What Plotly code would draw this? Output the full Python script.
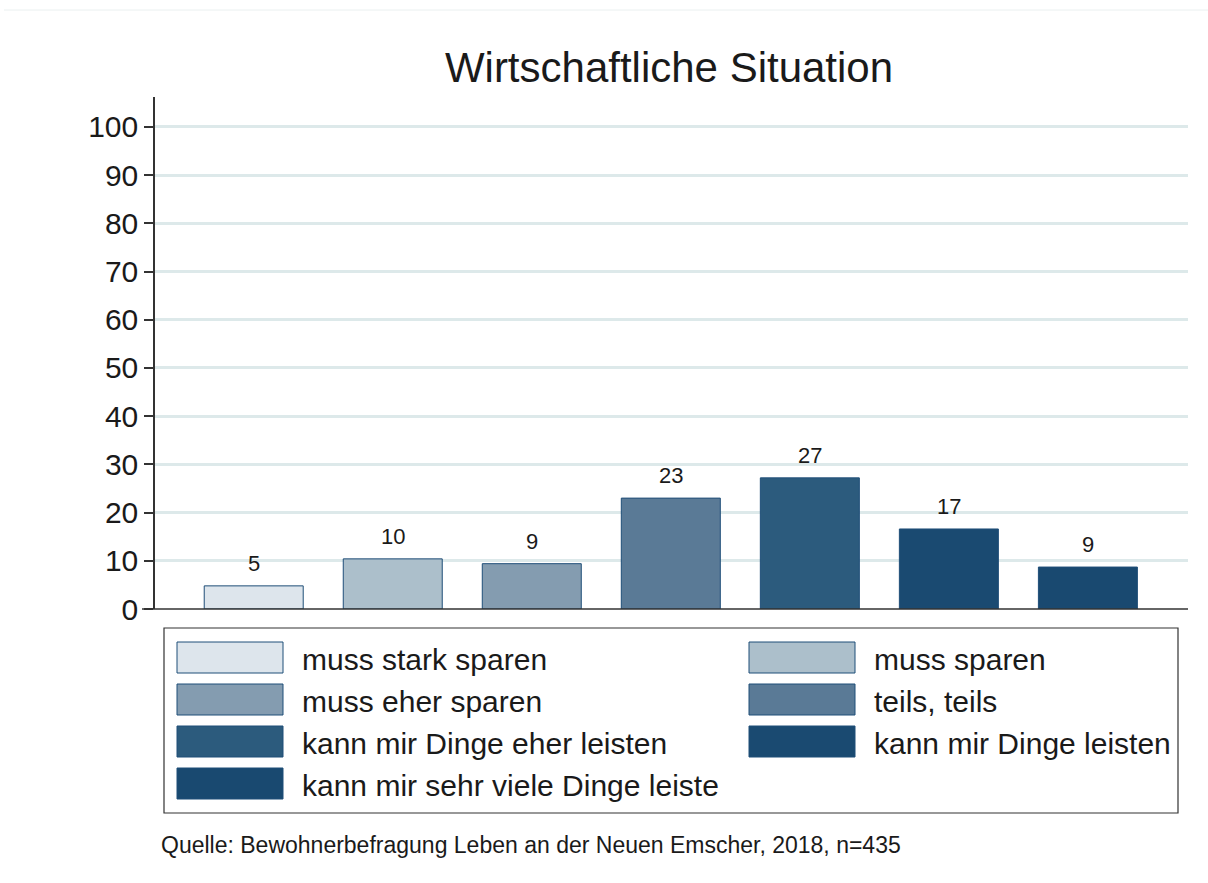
import plotly.graph_objects as go

# Survey shares (percent) per answer category
categories = [
    "muss stark sparen",
    "muss sparen",
    "muss eher sparen",
    "teils, teils",
    "kann mir Dinge eher leisten",
    "kann mir Dinge leisten",
    "kann mir sehr viele Dinge leiste",
]
shares = [4.8, 10.4, 9.4, 23.0, 27.2, 16.6, 8.7]
y_ticks = [0, 10, 20, 30, 40, 50, 60, 70, 80, 90, 100]

fill_colors = ["#dde5ec", "#acbfcb", "#849cb0", "#5a7a96", "#2c5b7d", "#1a4a71", "#194970"]
edge_color = "#1f4e78"
font_family = "Liberation Sans, Arial, sans-serif"
text_color = "#1a1a1a"

W, H = 1208, 883
L, R, T, B = 155, 20, 97, 274
plot_w = W - L - R
plot_h = H - T - B


def px_x(x):
    return (x - L) / plot_w


def px_y(y):
    return (H - B - y) / plot_h


fig = go.Figure()
for i, (cat, val) in enumerate(zip(categories, shares)):
    fig.add_trace(go.Bar(
        x=[i], y=[val], name=cat, width=0.712,
        marker=dict(color=fill_colors[i], line=dict(color=edge_color, width=1)),
        showlegend=False, hoverinfo="x+y",
    ))
    fig.add_annotation(
        x=i, y=val, text=f"{val:.0f}", showarrow=False,
        yanchor="bottom", yshift=8,
        font=dict(size=22, color=text_color, family=font_family),
    )

shapes = []
# x axis baseline, extending slightly left of the y axis
shapes.append(dict(type="line", xref="paper", yref="paper",
                   x0=px_x(142), x1=px_x(1188), y0=0, y1=0,
                   line=dict(color="#333333", width=1.5)))
# faint rule along the top of the canvas
shapes.append(dict(type="line", xref="paper", yref="paper",
                   x0=px_x(4), x1=px_x(1208), y0=px_y(10), y1=px_y(10),
                   line=dict(color="#eaf0f0", width=1)))
# legend frame
shapes.append(dict(type="rect", xref="paper", yref="paper",
                   x0=px_x(164), x1=px_x(1178), y0=px_y(628), y1=px_y(813),
                   line=dict(color="#333333", width=1.2), fillcolor="rgba(0,0,0,0)"))

annotations = []
col_x = [177, 749]
row_y = [642, 684, 726, 768]
for i, cat in enumerate(categories):
    cx = col_x[i % 2]
    ry = row_y[i // 2]
    shapes.append(dict(type="rect", xref="paper", yref="paper",
                       x0=px_x(cx), x1=px_x(cx + 106), y0=px_y(ry), y1=px_y(ry + 31),
                       line=dict(color=edge_color, width=1), fillcolor=fill_colors[i]))
    annotations.append(dict(xref="paper", yref="paper", x=px_x(cx + 123), y=px_y(ry + 17),
                            text=cat, showarrow=False, xanchor="left", yanchor="middle",
                            font=dict(size=30, color=text_color, family=font_family)))

annotations.append(dict(xref="paper", yref="paper", x=px_x(159), y=px_y(845),
                        text="Quelle: Bewohnerbefragung Leben an der Neuen Emscher, 2018, n=435",
                        showarrow=False, xanchor="left", yanchor="middle",
                        font=dict(size=23, color=text_color, family=font_family)))

for a in annotations:
    fig.add_annotation(**a)

fig.update_layout(
    width=W, height=H,
    margin=dict(l=L, r=R, t=T, b=B),
    paper_bgcolor="white", plot_bgcolor="white",
    barmode="overlay",
    title=dict(text="Wirtschaftliche Situation", xref="paper", x=px_x(669), xanchor="center",
               y=1 - 67 / H, yanchor="middle",
               font=dict(size=42, color=text_color, family=font_family)),
    shapes=shapes,
    xaxis=dict(range=[-0.71, 6.72], showticklabels=False, showgrid=False,
               zeroline=False, showline=False, ticks=""),
    yaxis=dict(range=[0, 106.2], tickvals=y_ticks, ticktext=[str(v) for v in y_ticks],
               showgrid=True, gridcolor="#dde9ea", gridwidth=2.5,
               zeroline=False, showline=True, linecolor="#333333", linewidth=1.5,
               ticks="outside", ticklen=9, tickcolor="#333333", tickwidth=1.5,
               tickfont=dict(size=30, color=text_color, family=font_family)),
    font=dict(family=font_family),
)

fig.write_html("out.html")
